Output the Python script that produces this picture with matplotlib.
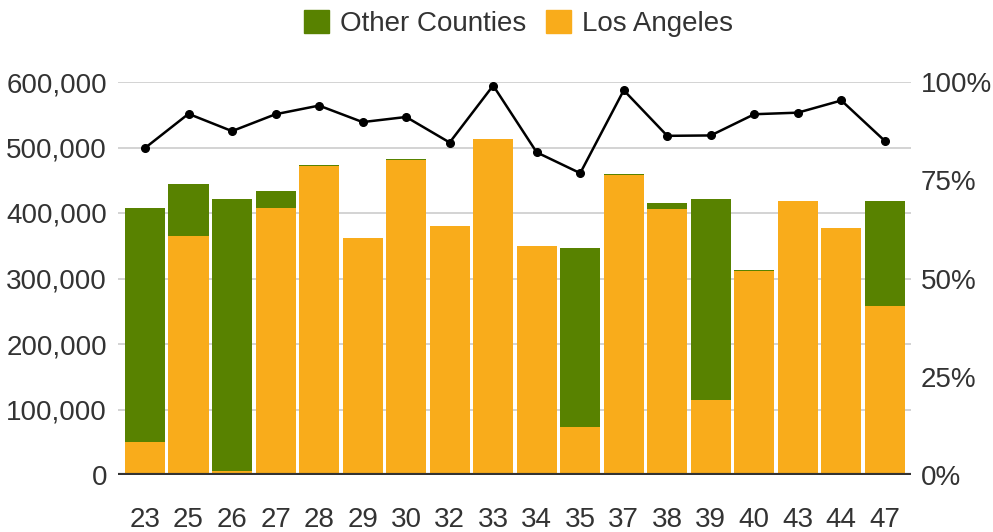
import numpy as np
import matplotlib
matplotlib.use('Agg')
import matplotlib.pyplot as plt
from matplotlib.patches import Patch
from matplotlib.ticker import FuncFormatter

plt.rcParams['font.family'] = ['Liberation Sans', 'DejaVu Sans']

districts = ['23', '25', '26', '27', '28', '29', '30', '32', '33',
             '34', '35', '37', '38', '39', '40', '43', '44', '47']
total = [407600, 444300, 421400, 433600, 473300, 361800, 482400, 380200, 513000,
         349600, 346600, 459500, 415300, 421400, 313000, 418300, 377100, 418300]
los_angeles = [50400, 365400, 6100, 407600, 472200, 361800, 481400, 380200, 513000,
               349600, 73300, 458000, 406100, 114500, 311500, 418300, 377100, 258500]
share_pct = [83.2, 91.9, 87.5, 91.8, 94.0, 89.8, 91.1, 84.6, 99.1,
             82.1, 76.8, 97.9, 86.3, 86.4, 91.8, 92.2, 95.3, 85.0]

green = '#588200'
orange = '#f9ac1b'
text_color = '#333333'

other = np.array(total) - np.array(los_angeles)
x = np.arange(len(districts))

fig = plt.figure(figsize=(9.93, 5.32), dpi=100)
ax = fig.add_axes([118 / 993, 1 - 475 / 532, (911 - 118) / 993, (475 - 82) / 532])

ax.bar(x, los_angeles, width=0.92, color=orange, zorder=2)
ax.bar(x, other, width=0.92, bottom=los_angeles, color=green, zorder=2)

ax.set_xlim(-0.62, 17.6)
ax.set_ylim(0, 600000)
ax.set_yticks(np.arange(0, 600001, 100000))
ax.yaxis.set_major_formatter(FuncFormatter(lambda v, p: f'{int(v):,}'))
ax.grid(axis='y', color='#cccccc', linewidth=1.2, zorder=0)
ax.axhline(0, color='#333333', linewidth=3, zorder=3)
for s in ax.spines.values():
    s.set_visible(False)
ax.set_xticks(x)
ax.set_xticklabels(districts)
ax.tick_params(axis='both', length=0, labelsize=20, colors=text_color)
ax.tick_params(axis='x', pad=23)
ax.tick_params(axis='y', pad=8)

ax2 = ax.twinx()
ax2.plot(x, share_pct, color='black', linewidth=1.8, marker='o', markersize=5.5, zorder=4)
ax2.set_ylim(0, 100)
ax2.set_yticks([0, 25, 50, 75, 100])
ax2.yaxis.set_major_formatter(FuncFormatter(lambda v, p: f'{int(v)}%'))
ax2.tick_params(axis='y', length=0, labelsize=20, colors=text_color, pad=7)
for s in ax2.spines.values():
    s.set_visible(False)

handles = [Patch(color=green, label='Other Counties'), Patch(color=orange, label='Los Angeles')]
fig.legend(handles=handles, loc='center', bbox_to_anchor=(0.522, 0.955), ncol=2,
           frameon=False, fontsize=20, handlelength=0.9, handleheight=0.9,
           handletextpad=0.4, columnspacing=0.7, labelcolor=text_color)

fig.savefig('out.png', dpi=100)
